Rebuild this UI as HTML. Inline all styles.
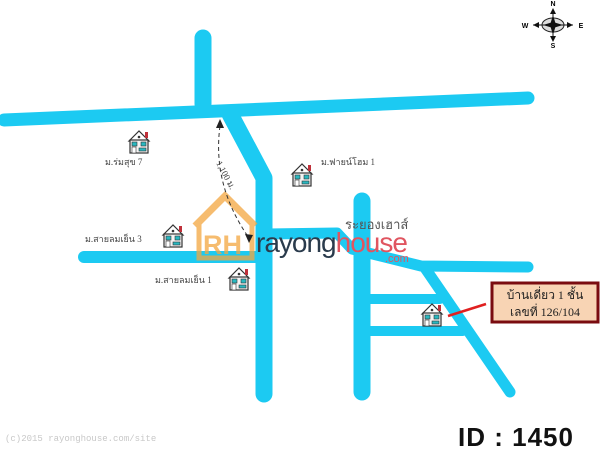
<!DOCTYPE html>
<html><head><meta charset="utf-8"><style>
html,body{margin:0;padding:0;background:#fff;width:600px;height:450px;overflow:hidden}
svg{display:block}
.t{font-family:"Liberation Serif","Noto Serif CJK SC",serif;font-size:9px;fill:#444}
</style></head><body>
<svg width="600" height="450" viewBox="0 0 600 450" xmlns="http://www.w3.org/2000/svg">
<defs>
<g id="h">
<polygon points="1,11 11,1 21,11" fill="#fff" stroke="#333" stroke-width="1.2"/>
<rect x="17" y="2" width="3" height="6" fill="#c0303a"/>
<rect x="2" y="10" width="18" height="13" fill="#f4f4f4" stroke="#333" stroke-width="1.2"/>
<circle cx="11" cy="7" r="1.3" fill="#333"/>
<rect x="4" y="12" width="5" height="4" fill="#2ab8c0" stroke="#333" stroke-width=".6"/>
<rect x="13" y="12" width="5" height="4" fill="#2ab8c0" stroke="#333" stroke-width=".6"/>
<rect x="4" y="17" width="4" height="6" fill="#fff" stroke="#333" stroke-width=".6"/>
<rect x="11" y="18" width="7" height="3" fill="#2ab8c0" stroke="#333" stroke-width=".6"/>
</g>
</defs>
<g stroke="#1ccaf2" fill="none" stroke-linecap="round" stroke-linejoin="round">
<line x1="4" y1="120" x2="528" y2="98" stroke-width="13"/>
<line x1="203" y1="38" x2="203" y2="104" stroke-width="17"/>
<polyline points="230,114 264,178 264,394" stroke-width="17"/>
<line x1="84" y1="257" x2="262" y2="257" stroke-width="12"/>
<polyline points="268,234 337,233 352,249 421,266 528,267" stroke-width="11"/>
<line x1="362" y1="201" x2="362" y2="392" stroke-width="17"/>
<line x1="425" y1="268" x2="510" y2="392" stroke-width="11"/>
<line x1="362" y1="299" x2="440" y2="299" stroke-width="10"/>
<line x1="362" y1="331" x2="463" y2="331" stroke-width="10"/>
</g>
<g opacity="0.75">
<polyline points="195,226 225,196 255,226" fill="none" stroke="#f4a640" stroke-width="7"/>
<polyline points="199,222 199,258 252,258 252,222" fill="none" stroke="#f4a640" stroke-width="5"/>
<text x="203" y="254" font-family="Liberation Sans,sans-serif" font-weight="bold" font-size="27" fill="#f4a640">RH</text>
</g>
<text x="256" y="252" font-family="Liberation Sans,sans-serif" font-size="28" fill="#2a3b4c" letter-spacing="-1">rayong<tspan fill="#e05560">house</tspan></text>
<text x="345" y="229" font-family="Liberation Sans,'Noto Sans CJK SC',sans-serif" font-size="13" fill="#555">ระยองเฮาส์</text>
<text x="385" y="262" font-family="Liberation Sans,sans-serif" font-size="11" fill="#e05560">.com</text>
<path d="M220,126 Q212,185 249,238" fill="none" stroke="#333" stroke-width="1" stroke-dasharray="4,3"/>
<polygon points="220,119 216,128 224,128" fill="#222"/>
<polygon points="249,243 245,234 253,235" fill="#222"/>
<text class="t" x="0" y="0" transform="translate(216,163) rotate(62)" font-size="8">1,100 ม.</text>
<use href="#h" x="128" y="130"/>
<use href="#h" x="291" y="163"/>
<use href="#h" x="162" y="224"/>
<use href="#h" x="228" y="267"/>
<use href="#h" x="421" y="303"/>
<text class="t" x="105" y="165">ม.ร่มสุข 7</text>
<text class="t" x="321" y="165">ม.ฟายน์โฮม 1</text>
<text class="t" x="85" y="242">ม.สายลมเย็น 3</text>
<text class="t" x="155" y="283">ม.สายลมเย็น 1</text>
<line x1="448" y1="316" x2="486" y2="304" stroke="#e02020" stroke-width="2.5"/>
<rect x="492" y="283" width="106" height="39" fill="#f8d4b4" stroke="#7a0c10" stroke-width="3"/>
<text x="545" y="299" text-anchor="middle" font-family="Liberation Serif,'Noto Serif CJK SC',serif" font-size="12" fill="#222">บ้านเดี่ยว 1 ชั้น</text>
<text x="545" y="316" text-anchor="middle" font-family="Liberation Serif,'Noto Serif CJK SC',serif" font-size="12" fill="#222">เลขที่ 126/104</text>
<g transform="translate(553,25)">
<ellipse cx="0" cy="0" rx="11" ry="7" fill="#ddd" stroke="#222" stroke-width="1"/>
<polygon points="0,-10 3,0 0,10 -3,0" fill="#111"/>
<polygon points="-10,0 0,-3 10,0 0,3" fill="#111"/>
<line x1="0" y1="-14" x2="0" y2="14" stroke="#111"/>
<line x1="-20" y1="0" x2="20" y2="0" stroke="#111"/>
<polygon points="0,-17 -3,-11 3,-11" fill="#111"/>
<polygon points="0,17 -3,11 3,11" fill="#111"/>
<polygon points="-20,0 -14,-3 -14,3" fill="#111"/>
<polygon points="20,0 14,-3 14,3" fill="#111"/>
<text x="0" y="-19" text-anchor="middle" font-family="Liberation Sans,sans-serif" font-weight="bold" font-size="7">N</text>
<text x="0" y="23" text-anchor="middle" font-family="Liberation Sans,sans-serif" font-weight="bold" font-size="7">S</text>
<text x="-28" y="3" text-anchor="middle" font-family="Liberation Sans,sans-serif" font-weight="bold" font-size="7">W</text>
<text x="28" y="3" text-anchor="middle" font-family="Liberation Sans,sans-serif" font-weight="bold" font-size="7">E</text>
</g>
<text x="5" y="441" font-family="Liberation Mono,monospace" font-size="9" fill="#c8c8c8">(c)2015 rayonghouse.com/site</text>
<text x="458" y="446" font-family="Liberation Sans,sans-serif" font-weight="bold" font-size="26" fill="#111" letter-spacing="1">ID : 1450</text>
</svg>
</body></html>
